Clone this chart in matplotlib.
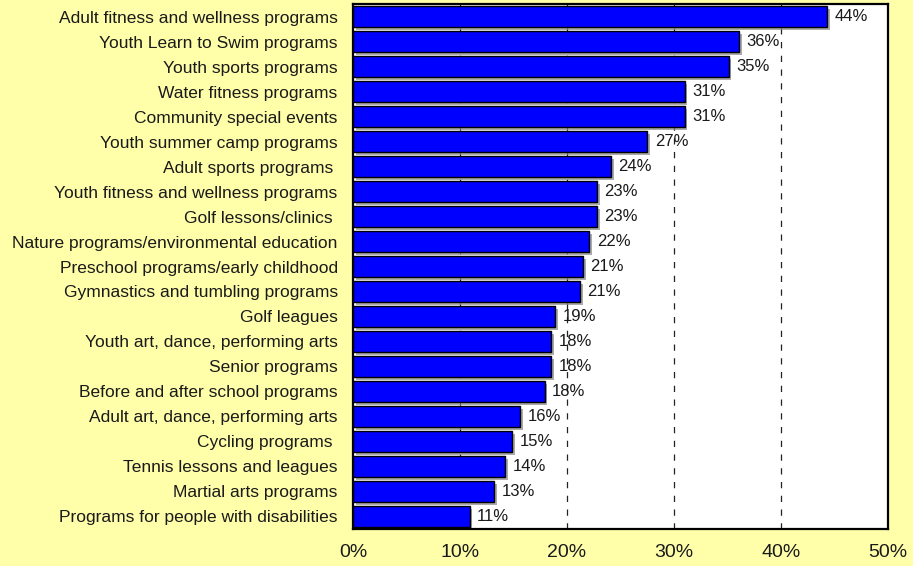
import matplotlib
matplotlib.use("Agg")
import matplotlib.pyplot as plt
import matplotlib.patheffects as pe
from matplotlib.ticker import FuncFormatter

categories = [
    "Adult fitness and wellness programs",
    "Youth Learn to Swim programs",
    "Youth sports programs",
    "Water fitness programs",
    "Community special events",
    "Youth summer camp programs",
    "Adult sports programs ",
    "Youth fitness and wellness programs",
    "Golf lessons/clinics ",
    "Nature programs/environmental education",
    "Preschool programs/early childhood",
    "Gymnastics and tumbling programs",
    "Golf leagues",
    "Youth art, dance, performing arts",
    "Senior programs",
    "Before and after school programs",
    "Adult art, dance, performing arts",
    "Cycling programs ",
    "Tennis lessons and leagues",
    "Martial arts programs",
    "Programs for people with disabilities",
]
values = [44.3, 36.1, 35.1, 31.0, 31.0, 27.5, 24.1, 22.8, 22.8, 22.1, 21.5,
          21.2, 18.9, 18.5, 18.5, 17.9, 15.6, 14.9, 14.2, 13.2, 10.9]
value_labels = ["44%", "36%", "35%", "31%", "31%", "27%", "24%", "23%", "23%",
                "22%", "21%", "21%", "19%", "18%", "18%", "18%", "16%", "15%",
                "14%", "13%", "11%"]
xticks = [0, 10, 20, 30, 40, 50]

plt.rcParams['font.family'] = ['Liberation Sans', 'DejaVu Sans']
bg = '#FFFFAA'
text_col = '#1a1a1a'

fig = plt.figure(figsize=(9.13, 5.66), dpi=100, facecolor=bg)
ax = fig.add_axes([0.3866, 0.0654, 0.9726 - 0.3866, 0.9929 - 0.0654])
ax.set_facecolor('white')

ypos = list(range(len(categories)))
for x in xticks[1:-1]:
    ax.axvline(x, color='#222222', linestyle=(0, (5, 6)), linewidth=0.9, zorder=1)

bars = ax.barh(ypos, values, height=0.86, color='#0000FF', edgecolor='black',
               linewidth=1.0, zorder=2)
for b in bars:
    b.set_path_effects([pe.SimplePatchShadow(offset=(2, -2), shadow_rgbFace='#888888', alpha=0.7),
                        pe.Normal()])

for y, v, lab in zip(ypos, values, value_labels):
    ax.text(v + 0.7, y, lab, va='center', ha='left',
            fontsize=12, color=text_col, zorder=3)

ax.set_ylim(len(categories) - 0.5, -0.5)
ax.set_xlim(0, 50)
ax.set_xticks(xticks)
ax.xaxis.set_major_formatter(FuncFormatter(lambda v, p: "%d%%" % v))
ax.set_yticks(ypos)
ax.set_yticklabels(categories)
ax.tick_params(axis='y', length=0, pad=11, labelsize=12.5, labelcolor=text_col)
ax.tick_params(axis='x', length=0, pad=11, labelsize=14, labelcolor=text_col)
for s in ax.spines.values():
    s.set_linewidth(1.6)
    s.set_color('black')

fig.savefig("out.png", dpi=100, facecolor=bg)
